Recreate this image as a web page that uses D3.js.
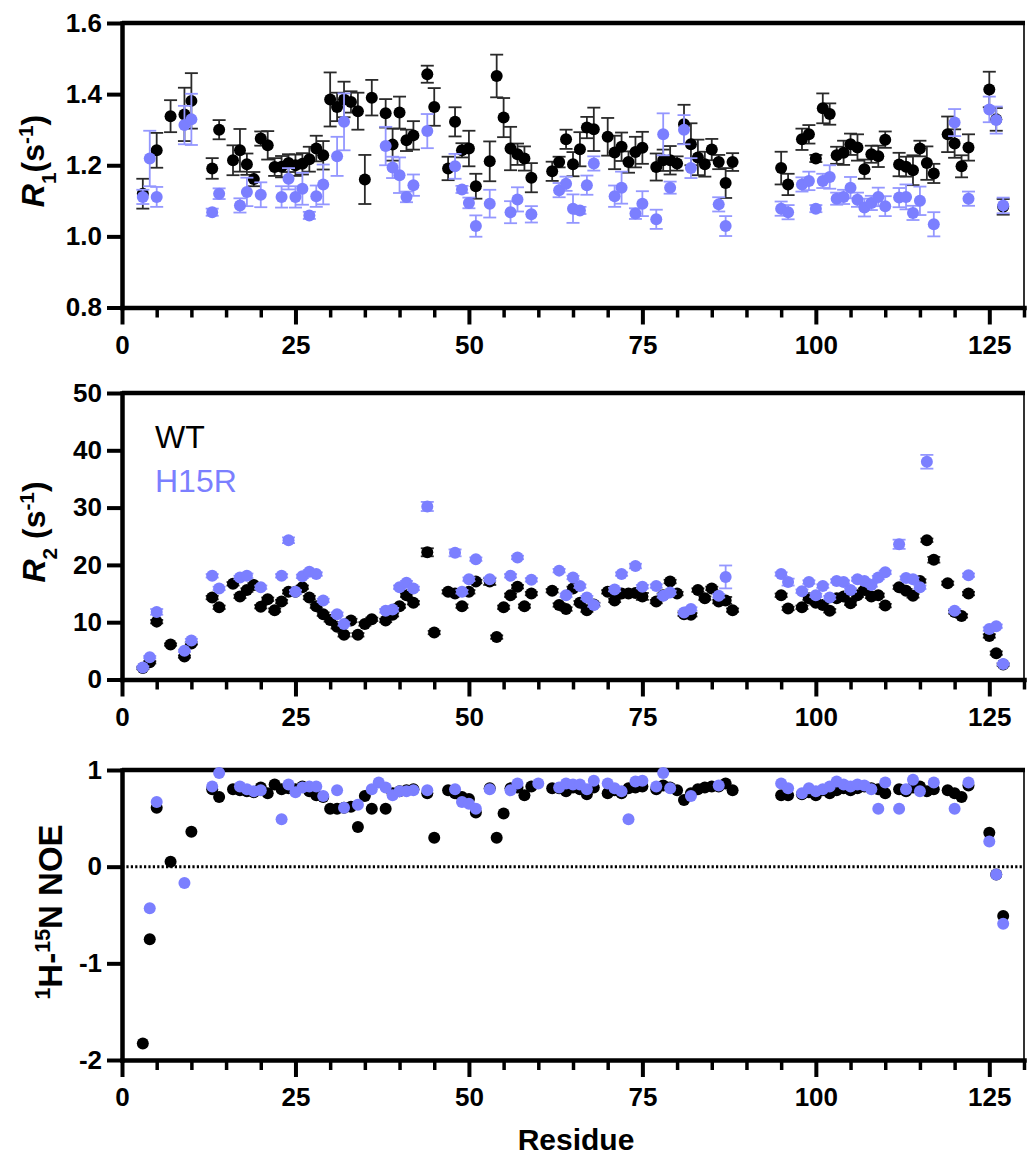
<!DOCTYPE html>
<html><head><meta charset="utf-8">
<script src="https://cdn.jsdelivr.net/npm/d3@7"></script>
<style>
body{margin:0;background:#fff}
svg{display:block}
text{font-family:"Liberation Sans",Arial,Helvetica,sans-serif}
</style>
</head><body>
<svg id="chart" width="1028" height="1156"></svg>
<script>
// ---------------- DATA ----------------
const residueTicks = [0, 25, 50, 75, 100, 125];
const r1Ticks = [0.8, 1.0, 1.2, 1.4, 1.6];
const r2Ticks = [0, 10, 20, 30, 40, 50];
const noeTicks = [-2, -1, 0, 1];
const seriesNames = ["WT", "H15R"];

// R1 [residue, value, error]
const r1WT = [[3,1.12,0.042],[5,1.242,0.049],[7,1.338,0.045],[9,1.343,0.075],[10,1.381,0.078],
[13,1.191,0.029],[14,1.30,0.027],[16,1.214,0.042],[17,1.242,0.06],[18,1.203,0.03],[19,1.161,0.02],
[20,1.275,0.02],[21,1.256,0.04],[22,1.195,0.025],[23,1.196,0.03],[24,1.206,0.025],[25,1.20,0.03],
[26,1.204,0.03],[27,1.217,0.035],[28,1.247,0.036],[29,1.228,0.04],[30,1.385,0.076],[31,1.364,0.04],
[32,1.385,0.05],[33,1.378,0.03],[34,1.352,0.052],[35,1.16,0.069],[36,1.39,0.05],[38,1.346,0.04],
[39,1.258,0.045],[40,1.348,0.045],[41,1.27,0.03],[42,1.284,0.04],[44,1.456,0.024],[45,1.364,0.053],
[47,1.191,0.033],[48,1.322,0.041],[49,1.242,0.02],[50,1.247,0.05],[51,1.141,0.035],[53,1.211,0.056],
[54,1.451,0.06],[55,1.334,0.055],[56,1.247,0.061],[57,1.231,0.03],[58,1.219,0.034],[59,1.165,0.041],
[62,1.183,0.027],[63,1.209,0.015],[64,1.273,0.027],[65,1.203,0.034],[66,1.245,0.048],[67,1.306,0.03],
[68,1.301,0.061],[70,1.28,0.053],[71,1.236,0.047],[72,1.252,0.04],[73,1.209,0.03],[74,1.237,0.043],
[75,1.249,0.045],[77,1.195,0.038],[78,1.214,0.03],[79,1.214,0.04],[80,1.205,0.02],[81,1.315,0.055],
[82,1.259,0.059],[83,1.222,0.05],[84,1.203,0.035],[85,1.244,0.03],[86,1.209,0.02],[87,1.15,0.042],
[88,1.209,0.025],[95,1.192,0.046],[96,1.146,0.03],[98,1.273,0.03],[99,1.287,0.026],[100,1.219,0.01],
[101,1.36,0.042],[102,1.344,0.03],[103,1.228,0.024],[104,1.235,0.034],[105,1.259,0.03],[106,1.25,0.037],
[107,1.189,0.027],[108,1.231,0.024],[109,1.225,0.03],[110,1.272,0.023],[112,1.202,0.033],[113,1.196,0.028],
[114,1.186,0.042],[115,1.247,0.022],[116,1.206,0.047],[117,1.177,0.027],[119,1.287,0.05],[120,1.261,0.04],
[121,1.197,0.031],[122,1.25,0.037],[125,1.413,0.05],[126,1.329,0.032],[127,1.083,0.022]];

const r1H15R = [[3,1.111,0.02],[4,1.219,0.078],[5,1.111,0.028],[9,1.313,0.054],[10,1.329,0.072],
[13,1.068,0.01],[14,1.12,0.015],[17,1.087,0.02],[18,1.125,0.04],[20,1.117,0.035],[23,1.111,0.03],
[24,1.162,0.03],[25,1.111,0.03],[26,1.134,0.045],[27,1.059,0.01],[28,1.113,0.03],[29,1.146,0.056],
[31,1.225,0.055],[32,1.322,0.08],[38,1.254,0.054],[39,1.194,0.03],[40,1.172,0.05],[41,1.111,0.015],
[42,1.144,0.03],[44,1.296,0.048],[48,1.197,0.035],[49,1.132,0.01],[50,1.094,0.015],[51,1.029,0.03],
[53,1.092,0.039],[56,1.068,0.031],[57,1.104,0.034],[59,1.062,0.023],[63,1.13,0.02],[64,1.148,0.02],
[65,1.078,0.04],[66,1.073,0.01],[67,1.144,0.027],[68,1.205,0.02],[71,1.113,0.03],[72,1.137,0.045],
[74,1.064,0.015],[75,1.092,0.035],[77,1.048,0.027],[78,1.287,0.059],[79,1.137,0.017],[81,1.30,0.041],
[82,1.192,0.028],[86,1.09,0.02],[87,1.029,0.028],[95,1.078,0.02],[96,1.068,0.02],[98,1.146,0.02],
[99,1.156,0.026],[100,1.078,0.01],[101,1.156,0.02],[102,1.167,0.033],[103,1.106,0.017],[104,1.111,0.02],
[105,1.137,0.03],[106,1.103,0.02],[107,1.081,0.025],[108,1.094,0.02],[109,1.111,0.026],[110,1.085,0.028],
[112,1.109,0.027],[113,1.111,0.035],[114,1.066,0.02],[115,1.10,0.04],[117,1.034,0.034],[120,1.32,0.038],
[122,1.106,0.02],[125,1.357,0.036],[126,1.327,0.038],[127,1.087,0.022]];

// R2 [residue, value, error]
const r2WT = [[3,2.0,0.2],[4,3.0,0.2],[5,10.1,0.3],[7,6.1,0.2],[9,4.0,0.2],[10,6.3,0.2],[13,14.3,0.3],
[14,12.6,0.3],[16,16.7,0.3],[17,14.5,0.3],[18,15.6,0.3],[19,16.5,0.3],[20,12.7,0.3],[21,14.0,0.3],
[22,12.1,0.3],[23,13.6,0.3],[24,15.3,0.3],[25,15.3,0.3],[26,16.1,0.3],[27,14.3,0.3],[28,12.8,0.3],
[29,11.4,0.3],[30,10.4,0.3],[31,9.2,0.3],[32,7.8,0.3],[33,10.3,0.3],[34,7.8,0.3],[35,9.7,0.3],
[36,10.5,0.3],[38,10.3,0.3],[39,11.3,0.3],[40,12.8,0.3],[41,14.7,0.3],[42,13.4,0.3],[44,22.2,0.7],
[45,8.2,0.3],[47,15.3,0.3],[48,15.0,0.3],[49,12.8,0.3],[50,15.3,0.3],[51,17.1,0.3],[53,17.1,0.6],
[54,7.4,0.3],[55,12.6,0.3],[56,14.7,0.3],[57,16.2,0.3],[58,12.8,0.3],[59,15.0,0.3],[62,15.5,0.3],
[63,13.0,0.3],[64,12.3,0.3],[65,15.9,0.3],[66,13.4,0.3],[67,12.1,0.3],[68,13.1,0.3],[70,15.3,0.3],
[71,13.8,0.3],[72,15.0,0.3],[73,15.0,0.3],[74,15.1,0.3],[75,14.5,0.6],[77,13.6,0.3],[78,14.7,0.3],
[79,17.1,0.3],[80,15.0,0.3],[81,11.4,0.3],[82,11.3,0.3],[83,15.6,0.3],[84,14.2,0.3],[85,15.9,0.3],
[86,13.6,0.3],[87,13.8,0.6],[88,12.1,0.3],[95,14.7,0.3],[96,12.4,0.3],[98,12.6,0.3],[99,14.2,0.3],
[100,13.4,0.3],[101,13.0,0.3],[102,12.0,0.3],[103,14.2,0.3],[104,14.5,0.3],[105,13.3,0.3],[106,14.7,0.3],
[107,15.6,0.3],[108,14.5,0.3],[109,14.7,0.3],[110,12.9,0.3],[112,16.1,0.3],[113,15.5,0.3],[114,14.6,0.3],
[115,17.2,0.3],[116,24.3,0.3],[117,20.9,0.5],[119,16.8,0.3],[120,11.8,0.3],[121,11.1,0.3],[122,15.0,0.3],
[125,7.6,0.3],[126,4.6,0.3],[127,2.6,0.2]];

const r2H15R = [[3,2.1,0.2],[4,3.9,0.2],[5,11.8,0.5],[9,5.0,0.2],[10,6.8,0.3],[13,18.1,0.3],[14,15.9,0.3],
[17,17.8,0.3],[18,18.1,0.4],[20,16.1,0.3],[23,18.1,0.3],[24,24.3,0.5],[25,15.3,0.3],[26,18.0,0.3],
[27,18.8,0.3],[28,18.4,0.3],[29,13.8,0.3],[31,11.4,0.3],[32,9.7,0.3],[38,12.0,0.3],[39,12.2,0.3],
[40,16.1,0.3],[41,16.9,0.3],[42,15.9,0.3],[44,30.2,0.8],[48,22.1,0.6],[49,15.3,0.3],[50,17.5,0.3],
[51,21.0,0.3],[53,17.5,0.3],[56,18.1,0.3],[57,21.3,0.3],[59,17.4,0.3],[63,19.0,0.3],[64,14.7,0.3],
[65,17.8,0.3],[66,16.3,0.3],[67,14.3,0.3],[68,13.0,0.3],[71,15.7,0.3],[72,18.4,0.3],[74,19.8,0.4],
[75,16.2,0.3],[77,16.3,0.3],[78,14.6,0.3],[79,15.2,0.3],[81,11.7,0.3],[82,12.3,0.3],[86,14.6,0.3],
[87,17.9,2.0],[95,18.4,0.3],[96,17.0,0.6],[98,15.4,0.3],[99,17.0,0.3],[100,14.7,0.3],[101,16.3,0.3],
[102,14.3,0.3],[103,17.2,0.3],[104,17.0,0.3],[105,15.6,0.3],[106,17.5,0.3],[107,17.2,0.3],[108,16.5,0.3],
[109,17.8,0.3],[110,18.7,0.3],[112,23.6,0.8],[113,17.7,0.3],[114,17.5,0.3],[115,16.1,0.3],[116,38.0,1.2],
[120,12.0,0.3],[122,18.2,0.3],[125,8.8,0.3],[126,9.3,0.3],[127,2.7,0.2]];

// 1H-15N NOE [residue, value]
const noeWT = [[3,-1.83],[4,-0.75],[5,0.61],[7,0.05],[10,0.36],[13,0.80],[14,0.72],[16,0.80],[17,0.79],
[18,0.78],[19,0.77],[20,0.82],[21,0.76],[22,0.85],[23,0.80],[24,0.81],[25,0.80],[26,0.83],[27,0.78],
[28,0.74],[29,0.72],[30,0.60],[31,0.60],[32,0.61],[33,0.62],[34,0.41],[35,0.73],[36,0.60],[38,0.60],
[39,0.76],[40,0.78],[41,0.79],[42,0.80],[44,0.76],[45,0.30],[47,0.79],[48,0.76],[49,0.72],[50,0.70],
[51,0.56],[53,0.81],[54,0.30],[55,0.55],[56,0.81],[57,0.82],[58,0.74],[59,0.83],[62,0.81],[63,0.81],
[64,0.78],[65,0.82],[66,0.80],[67,0.75],[68,0.82],[70,0.76],[71,0.79],[72,0.76],[73,0.81],[74,0.82],
[75,0.83],[77,0.80],[78,0.84],[79,0.82],[80,0.79],[81,0.69],[82,0.76],[83,0.80],[84,0.82],[85,0.83],
[86,0.83],[87,0.86],[88,0.79],[95,0.74],[96,0.74],[98,0.75],[99,0.77],[100,0.74],[101,0.79],[102,0.76],
[103,0.79],[104,0.81],[105,0.79],[106,0.81],[107,0.83],[108,0.81],[109,0.80],[110,0.76],[112,0.80],
[113,0.78],[114,0.82],[115,0.83],[116,0.78],[117,0.80],[119,0.79],[120,0.76],[121,0.72],[122,0.84],
[125,0.35],[126,-0.08],[127,-0.51]];

const noeH15R = [[4,-0.43],[5,0.67],[9,-0.17],[13,0.83],[14,0.97],[17,0.83],[18,0.80],[19,0.78],[20,0.79],
[23,0.49],[24,0.85],[25,0.77],[26,0.82],[27,0.83],[28,0.83],[29,0.73],[31,0.79],[32,0.61],[34,0.64],
[36,0.80],[37,0.87],[38,0.82],[39,0.74],[40,0.78],[41,0.78],[42,0.79],[44,0.79],[48,0.80],[49,0.67],
[50,0.65],[51,0.60],[53,0.80],[56,0.79],[57,0.86],[60,0.86],[63,0.82],[64,0.86],[65,0.85],[66,0.85],
[67,0.80],[68,0.89],[70,0.86],[71,0.81],[72,0.78],[73,0.49],[74,0.88],[75,0.89],[77,0.83],[78,0.97],
[79,0.81],[82,0.73],[86,0.84],[95,0.86],[96,0.81],[98,0.76],[99,0.81],[100,0.78],[101,0.80],[102,0.83],
[103,0.88],[104,0.85],[105,0.83],[106,0.85],[107,0.84],[108,0.80],[109,0.60],[110,0.87],[112,0.60],
[113,0.80],[114,0.90],[115,0.78],[117,0.87],[120,0.60],[122,0.87],[125,0.26],[126,-0.08],[127,-0.59]];

// ---------------- STYLE ----------------
const BLACK = "#000";
const BLUE = "#7b7fff";
const BLUE_ERR = "#9497ff";
const BLACK_ERR = "#2a2a2a";
const R = 6;

const svg = d3.select("#chart");
const x = d3.scaleLinear().domain([0, 130]).range([122, 1024]);

function drawPanel(cfg) {
  const y = d3.scaleLinear().domain(cfg.domain).range(cfg.range);
  const g = svg.append("g");
  const yTop = cfg.range[1], yBot = cfg.range[0];

  g.append("line").attr("x1", x(130)).attr("x2", x(130)).attr("y1", yTop).attr("y2", yBot)
    .attr("stroke", "#333").attr("stroke-width", 2);
  g.append("line").attr("x1", x(0)).attr("x2", x(130) + 1).attr("y1", yTop).attr("y2", yTop)
    .attr("stroke", BLACK).attr("stroke-width", 4.5);

  if (cfg.zeroLine) {
    g.append("line").attr("x1", x(0)).attr("x2", x(130)).attr("y1", y(0)).attr("y2", y(0))
      .attr("stroke", BLACK).attr("stroke-width", 3).attr("stroke-dasharray", "2.2,2.2");
  }

  const minor = d3.range(0, 131, 5).filter(v => residueTicks.indexOf(v) < 0);
  const gMinor = g.append("g").attr("transform", `translate(0,${yBot})`)
    .call(d3.axisBottom(x).tickValues(minor).tickSize(10).tickSizeOuter(0).tickFormat(""));
  gMinor.select(".domain").remove();
  gMinor.selectAll(".tick line").attr("stroke-width", 3.5);

  const gx = g.append("g").attr("transform", `translate(0,${yBot})`)
    .call(d3.axisBottom(x).tickValues(residueTicks).tickSize(17).tickPadding(11).tickSizeOuter(0));
  gx.select(".domain").attr("stroke-width", 4.5).attr("stroke-linecap", "square");
  gx.selectAll(".tick line").attr("stroke-width", 4);
  gx.selectAll(".tick text").attr("font-size", 26).attr("font-weight", "bold").attr("fill", BLACK)
    .attr("font-family", "'Liberation Sans', Arial, sans-serif");

  const gy = g.append("g").attr("transform", `translate(${x(0)},0)`)
    .call(d3.axisLeft(y).tickValues(cfg.ticks).tickSize(15).tickPadding(5).tickSizeOuter(0).tickFormat(cfg.fmt));
  gy.select(".domain").attr("stroke-width", 4.5).attr("stroke-linecap", "square");
  gy.selectAll(".tick line").attr("stroke-width", 4);
  gy.selectAll(".tick text").attr("font-size", 26).attr("font-weight", "bold").attr("fill", BLACK)
    .attr("font-family", "'Liberation Sans', Arial, sans-serif");

  const series = [[cfg.wt, BLACK, BLACK_ERR], [cfg.mut, BLUE, BLUE_ERR]];
  series.forEach(([data, col, ecol]) => {
    if (cfg.errors) {
      const eg = g.append("g").attr("stroke", ecol).attr("stroke-width", 1.8).attr("fill", "none");
      data.forEach(d => {
        const cx = x(d[0]), y1 = y(d[1] - d[2]), y2 = y(d[1] + d[2]);
        eg.append("line").attr("x1", cx).attr("x2", cx).attr("y1", y1).attr("y2", y2);
        eg.append("line").attr("x1", cx - 6.5).attr("x2", cx + 6.5).attr("y1", y1).attr("y2", y1);
        eg.append("line").attr("x1", cx - 6.5).attr("x2", cx + 6.5).attr("y1", y2).attr("y2", y2);
      });
    }
    g.append("g").selectAll("circle").data(data).join("circle")
      .attr("cx", d => x(d[0])).attr("cy", d => y(d[1])).attr("r", R).attr("fill", col);
  });
  return { g, y };
}

drawPanel({ domain: [0.8, 1.6], range: [307.5, 23], ticks: r1Ticks, fmt: d3.format(".1f"),
  wt: r1WT, mut: r1H15R, errors: true });
drawPanel({ domain: [0, 50], range: [679.5, 393], ticks: r2Ticks, fmt: d3.format("d"),
  wt: r2WT, mut: r2H15R, errors: true });
drawPanel({ domain: [-2, 1], range: [1060, 770], ticks: noeTicks, fmt: d => String(d),
  wt: noeWT, mut: noeH15R, errors: false, zeroLine: true });

function yTitle(cx, cy, parts, size, weight) {
  const t = svg.append("text").attr("transform", `translate(${cx},${cy}) rotate(-90)`)
    .attr("text-anchor", "middle").attr("font-size", size).attr("font-weight", weight).attr("fill", BLACK);
  parts.forEach(p => {
    const s = t.append("tspan").text(p.t);
    if (p.i) s.attr("font-style", "italic");
    if (p.sub) s.attr("baseline-shift", "sub").attr("font-size", size * 0.65);
    if (p.sup) s.attr("baseline-shift", "super").attr("font-size", size * 0.65);
  });
}
yTitle(44, 161, [{t:"R", i:true},{t:"1", sub:true},{t:"(s"},{t:"-1", sup:true},{t:")"}], 32, "bold");
yTitle(45, 532, [{t:"R", i:true},{t:"2", sub:true},{t:" (s"},{t:"-1", sup:true},{t:")"}], 32, "bold");
yTitle(62, 912, [{t:"1", sup:true},{t:"H-"},{t:"15", sup:true},{t:"N NOE"}], 33, "bold");

svg.append("text").attr("x", 576).attr("y", 1150).attr("text-anchor", "middle")
  .attr("font-size", 30).attr("font-weight", "bold").attr("fill", BLACK).text("Residue");

svg.append("text").attr("x", 155).attr("y", 448).attr("font-size", 32).attr("fill", BLACK).text(seriesNames[0]);
svg.append("text").attr("x", 155).attr("y", 492).attr("font-size", 32).attr("fill", BLUE).text(seriesNames[1]);
</script>
</body></html>
